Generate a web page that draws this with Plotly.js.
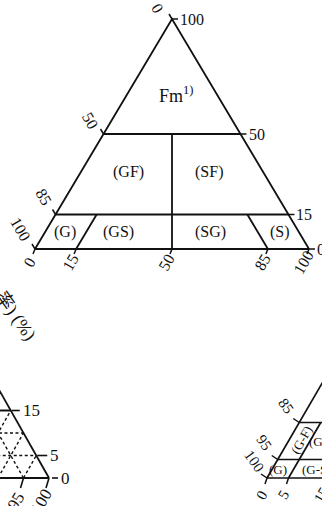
<!DOCTYPE html>
<html>
<head>
<meta charset="utf-8">
<script src="https://cdn.plot.ly/plotly-3.0.1.min.js"></script>
<style>
  html, body { margin: 0; padding: 0; background: #fff; }
  #chart { width: 322px; height: 506px; }
</style>
</head>
<body>
<div id="chart"></div>
<script>
// Soil classification triangles.
// F = fines content (%), S = sand content (%), G = gravel = 100 - S - F.
// Plane coordinates used for drawing: x = S + F/2, y = F
// (gravel corner at x = 0, sand corner at x = 100, fines apex at x = 50, y = 100).

// ---- main triangle ----
const mainFineTicks   = [100, 50, 15, 0];        // right side, fines content
const mainCoarseTicks = [0, 50, 85, 100];        // left side, coarse fraction (100 - F)
const mainSandTicks   = [0, 15, 50, 85, 100];    // base, sand content
const mainFineBounds  = [50, 15];                // horizontal class boundaries (F)
const mainSandBound   = 15;                      // S boundary below F = 15
const mainGravelBound = 15;                      // G boundary below F = 15
const mainSplitTop    = 50;                      // G = S divider runs up to this F
const mainClassNames  = ['Fm<sup>1)</sup>', '(GF)', '(SF)', '(G)', '(GS)', '(SG)', '(S)'];

// ---- sand-corner detail (lower left) ----
const sandFineTicks   = [15, 5, 0];
const sandSandTicks   = [95, 100];
const sandSolidF      = [15];
const sandDashF       = [10, 5];
const sandDashS       = [95, 90, 85];
const sandDashG       = [10, 5];

// ---- gravel-corner detail (lower right) ----
const gravCoarseTicks = [85, 95, 100];
const gravSandTicks   = [0, 5, 15];
const gravFineBounds  = [5, 15];
const gravSandBounds  = [5, 15];
const gravClassNames  = ['(G)', '(G-S)', '(G-F)', '(G-FS)'];

// ---------------------------------------------------------------
const W = 322, H = 506;
const INK = '#111';
const SERIF = 'Liberation Serif, Times New Roman, serif';

// panel geometry: plane point (x0, y0) sits at pixel (px0, py0); sx, sy = px per unit
const panels = {
  main:   { xa: 'x',  ya: 'y',  x0: 0,   y0: 0, px0: 35,  py0: 249, sx: 2.74, sy: 2.30, box: [0, 0, 322, 300] },
  sand:   { xa: 'x2', ya: 'y2', x0: 100, y0: 0, px0: 49,  py0: 478, sx: 5.1,  sy: 4.5,  box: [0, 370, 80, 506] },
  gravel: { xa: 'x3', ya: 'y3', x0: 0,   y0: 0, px0: 267, py0: 478, sx: 4.3,  sy: 3.7,  box: [230, 370, 322, 506] }
};

// label placement (S, F) inside the classes
const mainClassSpots = [[18, 67], [17.5, 33.5], [46.8, 33.5], [7.2, 7.4], [26.6, 7.4], [60.5, 7.4], [85.7, 7.4]];
const gravClassSpots = [[1.3, 2.4], [10.4, 2.4], [3.0, 10.3], [9.0, 10]];
// pixel offsets of the rotated left-side numbers of the main triangle
const mainLeftShift  = [[-14, -11], [-13, -14], [-12, -18], [-14, -20]];

function plane(S, F) { return [S + F / 2, F]; }
function nudge(p, q, dx, dy) { return [q[0] + dx / p.sx, q[1] - dy / p.sy]; }
// plane point -> paper fraction (annotations use paper refs so that partly
// visible labels at the page edge are still drawn)
function toPaper(p, q) {
  const px = p.px0 + (q[0] - p.x0) * p.sx;
  const py = p.py0 - (q[1] - p.y0) * p.sy;
  return [px / W, 1 - py / H];
}

function axisPair(p) {
  const [l, t, r, b] = p.box;
  return {
    x: { domain: [l / W, r / W], range: [p.x0 + (l - p.px0) / p.sx, p.x0 + (r - p.px0) / p.sx],
         visible: false, fixedrange: true, anchor: p.ya },
    y: { domain: [1 - b / H, 1 - t / H], range: [p.y0 + (p.py0 - b) / p.sy, p.y0 + (p.py0 - t) / p.sy],
         visible: false, fixedrange: true, anchor: p.xa }
  };
}

// polylines given in plane coordinates
function lineTrace(p, polylines, width, dash) {
  const x = [], y = [];
  polylines.forEach(pl => {
    pl.forEach(q => { x.push(q[0]); y.push(q[1]); });
    x.push(null); y.push(null);
  });
  return { type: 'scatter', mode: 'lines', x, y, xaxis: p.xa, yaxis: p.ya,
           line: { color: INK, width, dash: dash || 'solid' }, hoverinfo: 'skip', showlegend: false };
}
function sf(list) { return list.map(([S, F]) => plane(S, F)); }

function label(p, q, text, o) {
  const [px, py] = toPaper(p, q);
  return Object.assign({
    xref: 'paper', yref: 'paper', x: px, y: py, text, showarrow: false,
    font: { family: SERIF, size: 16, color: INK }, xanchor: 'center', yanchor: 'middle'
  }, o || {});
}

const traces = [];
const ann = [];

// ===== main triangle =====
{
  const p = panels.main;
  const lowF = Math.min(...mainFineBounds);
  const lines = [
    sf([[0, 0], [100, 0], [0, 100], [0, 0]]),
    ...mainFineBounds.map(f => sf([[0, f], [100 - f, f]])),
    sf([[50, 0], [(100 - mainSplitTop) / 2, mainSplitTop]]),
    sf([[mainSandBound, 0], [mainSandBound, lowF]]),
    sf([[100 - mainGravelBound, 0], [100 - mainGravelBound - lowF, lowF]])
  ];
  const ticks = [];
  mainFineTicks.forEach(f => {
    const q = plane(100 - f, f), e = nudge(p, q, 6, 0);
    ticks.push([q, e]);
    ann.push(label(p, e, String(f), { xanchor: 'left', xshift: 0 }));
  });
  mainCoarseTicks.forEach((c, i) => {
    const q = plane(0, 100 - c);
    ticks.push([q, nudge(p, q, -3, -5)]);
    const [dx, dy] = mainLeftShift[i];
    ann.push(label(p, q, String(c), { textangle: 60, xshift: dx, yshift: -dy }));
  });
  mainSandTicks.forEach(s => {
    const q = plane(s, 0);
    ticks.push([q, nudge(p, q, -2, 5)]);
    ann.push(label(p, q, String(s), { textangle: -60, xshift: -6, yshift: -13 }));
  });
  traces.push(lineTrace(p, lines, 1.8));
  traces.push(lineTrace(p, ticks, 1.5));
  mainClassNames.forEach((n, i) => {
    const [S, F] = mainClassSpots[i];
    ann.push(label(p, plane(S, F), n, { font: { family: SERIF, size: i === 0 ? 18 : 16, color: INK } }));
  });
}

// ===== sand-corner detail =====
{
  const p = panels.sand;
  const top = Math.max(...sandSolidF);
  const solid = [
    sf([[0, 0], [100, 0]]),
    sf([[100, 0], [0, 100]]),
    ...sandSolidF.map(f => sf([[0, f], [100 - f, f]]))
  ];
  const dashed = [
    ...sandDashF.map(f => sf([[0, f], [100 - f, f]])),
    ...sandDashS.map(s => sf([[s, 0], [s, Math.min(100 - s, top)]])),
    ...sandDashG.map(g => sf([[100 - g, 0], [100 - g - top, top]]))
  ];
  const ticks = [];
  sandFineTicks.forEach(f => {
    const q = plane(100 - f, f), e = nudge(p, q, f === 5 ? 11 : 9, 0);
    ticks.push([nudge(p, q, f === 0 ? 3 : 1, 0), e]);
    ann.push(label(p, e, String(f), { xanchor: 'left', xshift: 1, font: { family: SERIF, size: 17, color: INK } }));
  });
  sandSandTicks.forEach(s => {
    const q = plane(s, 0);
    ticks.push([q, nudge(p, q, -3, 10)]);
    ann.push(label(p, q, String(s), { textangle: -60, xshift: -8, yshift: -23, font: { family: SERIF, size: 17, color: INK } }));
  });
  traces.push(lineTrace(p, solid, 1.8));
  traces.push(lineTrace(p, dashed, 1.4, '3px,2.5px'));
  traces.push(lineTrace(p, ticks, 1.6));
}

// ===== gravel-corner detail =====
{
  const p = panels.gravel;
  const top = Math.max(...gravFineBounds);
  const lines = [
    sf([[0, 0], [100, 0]]),
    sf([[0, 0], [0, 100]]),
    ...gravFineBounds.map(f => sf([[0, f], [100 - f, f]])),
    ...gravSandBounds.map(s => sf([[s, 0], [s, top]]))
  ];
  const ticks = [];
  gravCoarseTicks.forEach(c => {
    const q = plane(0, 100 - c);
    ticks.push([q, nudge(p, q, -6, -4)]);
    ann.push(label(p, q, String(c), { textangle: 55, xshift: -13, yshift: 17, font: { family: SERIF, size: 15, color: INK } }));
  });
  gravSandTicks.forEach(s => {
    const q = plane(s, 0);
    ticks.push([q, nudge(p, q, -2, 6)]);
    ann.push(label(p, q, String(s), { textangle: -60, xshift: s === 15 ? -10 : -5, yshift: -17, font: { family: SERIF, size: 15, color: INK } }));
  });
  traces.push(lineTrace(p, lines, 1.7));
  traces.push(lineTrace(p, ticks, 1.5));
  gravClassNames.forEach((n, i) => {
    const [S, F] = gravClassSpots[i];
    ann.push(label(p, plane(S, F), n, {
      textangle: (i === 2) ? -60 : 0,
      font: { family: SERIF, size: 13, color: INK }
    }));
  });
}

// axis caption running down the left margin
ann.push({
  xref: 'paper', yref: 'paper', x: 16 / W, y: 1 - 316 / H, text: '率) (%)', showarrow: false,
  textangle: 55, font: { family: 'Liberation Serif, Noto Sans CJK JP, serif', size: 18, color: INK },
  xanchor: 'center', yanchor: 'middle'
});

const a1 = axisPair(panels.main), a2 = axisPair(panels.sand), a3 = axisPair(panels.gravel);
const layout = {
  width: W, height: H, autosize: false,
  margin: { l: 0, r: 0, t: 0, b: 0, pad: 0 },
  paper_bgcolor: '#fff', plot_bgcolor: 'rgba(0,0,0,0)',
  showlegend: false,
  xaxis: a1.x, yaxis: a1.y,
  xaxis2: a2.x, yaxis2: a2.y,
  xaxis3: a3.x, yaxis3: a3.y,
  annotations: ann
};

Plotly.newPlot('chart', traces, layout, { staticPlot: true, displayModeBar: false });
</script>
</body>
</html>
